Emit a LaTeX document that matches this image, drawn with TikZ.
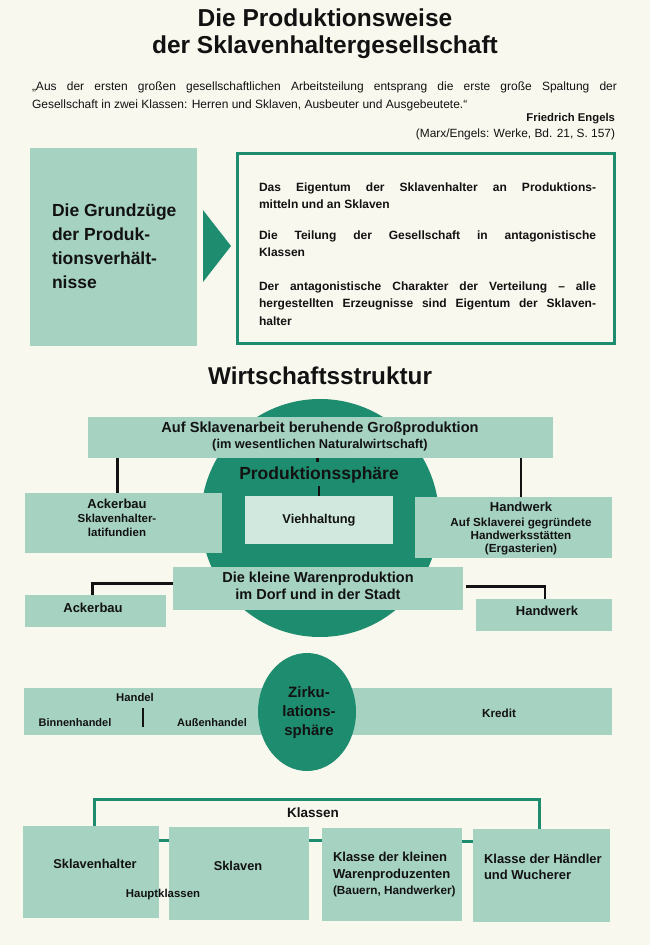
\documentclass[tikz,border=0pt]{standalone}
\usepackage{fontspec}
\setmainfont{Liberation Sans}
\usetikzlibrary{shapes.geometric,fit,calc}
\definecolor{paper}{RGB}{249,248,238}
\definecolor{lgreen}{RGB}{166,210,194}
\definecolor{vlgreen}{RGB}{208,232,221}
\definecolor{dgreen}{RGB}{30,140,110}
\definecolor{ink}{RGB}{18,18,18}
\newcommand\myfs[2]{\fontsize{#1}{#2}\selectfont}
\begin{document}
\begin{tikzpicture}[x=1pt,y=-1pt,
  every node/.style={inner sep=0pt, outer sep=0pt, text=ink},
  box/.style={fill=lgreen, draw=none},
  vbox/.style={fill=vlgreen, draw=none},
  lb/.style={anchor=base, font=\bfseries\myfs{#1}{#1}},
  lbw/.style={anchor=base west, font=\bfseries\myfs{#1}{#1}},
  conn/.style={draw=ink, line width=2.2pt},
  gconn/.style={draw=dgreen, line width=3pt},
]
% paper
\fill[paper] (0,0) rectangle (650,945);

% ---------- title ----------
\node[lb=24.5] (t1) at (325,26) {Die Produktionsweise};
\node[lb=24.5] (t2) at (325,53) {der Sklavenhaltergesellschaft};

% ---------- quote ----------
\node[anchor=base west, font=\myfs{12}{14}] (q1) at (32,90)
  {\makebox[585pt][s]{„Aus der ersten großen gesellschaftlichen Arbeitsteilung entsprang die erste große Spaltung der}};
\node[anchor=base west, font=\myfs{12}{14}] (q2) at (32,108)
  {Gesellschaft in zwei Klassen: Herren und Sklaven, Ausbeuter und Ausgebeutete.“};
\node[anchor=base east, font=\bfseries\myfs{11.3}{13}] (q3) at (615,121) {Friedrich Engels};
\node[anchor=base east, font=\myfs{11.9}{13}] (q4) at (615,137) {(Marx/Engels: Werke, Bd. 21, S. 157)};

% ---------- Grundzuege ----------
\node[box, fit={(30,148) (197,346)}] (gz) {};
\node[draw=dgreen, line width=3pt, fill=paper, fit={(237,153) (614,343)}] (eig) {};
\fill[dgreen] (203,210) -- (231,246) -- (203,282) -- cycle;
\node[lbw=17.5] (g1) at (52,216) {Die Grundzüge};
\node[lbw=17.5] (g2) at (52,240) {der Produk-};
\node[lbw=17.5] (g3) at (52,264) {tionsverhält-};
\node[lbw=17.5] (g4) at (52,288) {nisse};

\node[lbw=12] (e1) at (259,191) {\makebox[337pt][s]{Das Eigentum der Sklavenhalter an Produktions-}};
\node[lbw=12] (e2) at (259,208.5) {mitteln und an Sklaven};
\node[lbw=12] (e3) at (259,239) {\makebox[337pt][s]{Die Teilung der Gesellschaft in antagonistische}};
\node[lbw=12] (e4) at (259,256.5) {Klassen};
\node[lbw=12] (e5) at (259,290) {\makebox[337pt][s]{Der antagonistische Charakter der Verteilung – alle}};
\node[lbw=12] (e6) at (259,307.5) {\makebox[337pt][s]{hergestellten Erzeugnisse sind Eigentum der Sklaven-}};
\node[lbw=12] (e7) at (259,325) {halter};

% ---------- Wirtschaftsstruktur ----------
\node[lb=24.3] (ws) at (320,384) {Wirtschaftsstruktur};

\node[circle, fill=dgreen, minimum size=238pt] (pcirc) at (320,518) {};

\node[box, fit={(88,417) (553,458)}] (gp) {};
\node[lb=14.6] (gp1) at (320,432) {Auf Sklavenarbeit beruhende Großproduktion};
\node[lb=12.8] (gp2) at (320,448.5) {(im wesentlichen Naturalwirtschaft)};

\node[lb=17.5] (ps) at (319,479) {Produktionssphäre};

\node[box, fit={(25,493) (222,553)}] (acker) {};
\node[lb=13] (a1) at (117,508) {Ackerbau};
\node[lb=11.5] (a2) at (117,522) {Sklavenhalter-};
\node[lb=11.5] (a3) at (117,536.5) {latifundien};

\node[vbox, fit={(245,496) (393,544)}] (vieh) {};
\node[lb=12.8] (v1) at (319,523.5) {Viehhaltung};

\node[box, fit={(415,497) (612,558)}] (hw) {};
\node[lb=13] (h1) at (521,511) {Handwerk};
\node[lb=11.7] (h2) at (521,526) {Auf Sklaverei gegründete};
\node[lb=11.7] (h3) at (521,539.5) {Handwerksstätten};
\node[lb=11.7] (h4) at (521,552.5) {(Ergasterien)};

\node[box, fit={(173,567) (463,610)}] (waren) {};
\node[lb=14.5] (w1) at (318,582) {Die kleine Warenproduktion};
\node[lb=14.5] (w2) at (318,599) {im Dorf und in der Stadt};

\node[box, fit={(25,595) (166,627)}] (acker2) {};
\node[lb=13] (a4) at (93,612) {Ackerbau};
\node[box, fit={(476,599) (612,631)}] (hw2) {};
\node[lb=13] (h5) at (547,615) {Handwerk};

% connectors
\draw[conn] ([xshift=-6pt]acker.north) -- ([xshift=-6pt]acker.north |- gp.south);
\draw[conn] ([xshift=7.5pt]hw.north) -- ([xshift=7.5pt]hw.north |- gp.south);
\draw[conn] ([xshift=-3pt]gp.south) -- ([xshift=-3pt,yshift=4pt]gp.south |- ps.north);
\draw[conn] ([yshift=-3pt]ps.south) -- (ps.south |- vieh.north);
\draw[conn] ([yshift=5pt]waren.west) -| ([xshift=-3pt]acker2.north);
\draw[conn] ([xshift=3pt,yshift=2pt]waren.east) -| ([xshift=1pt]hw2.north);

% ---------- Zirkulation ----------
\node[box, fit={(24,688) (612,735)}] (band) {};
\node[ellipse, fill=dgreen, minimum width=98pt, minimum height=118pt] (zcirc) at (307,712) {};
\node[lb=15] (z1) at (309,697.5) {Zirku-};
\node[lb=15] (z2) at (309,716) {lations-};
\node[lb=15] (z3) at (309,735.5) {sphäre};

\node[lb=11.3] (hd) at (135,701) {Handel};
\node[lb=11] (bh) at (75,726) {Binnenhandel};
\node[lb=11] (ah) at (212,726) {Außenhandel};
\draw[conn] (143,708) -- (143,727);
\node[lb=11.7] (kr) at (499,717) {Kredit};

% ---------- Klassen ----------
\node[box, fit={(23,826) (159,918)}] (k1) {};
\node[box, fit={(169,827) (309,920)}] (k2) {};
\node[box, fit={(322,828) (462,921)}] (k3) {};
\node[box, fit={(473,829) (610,922)}] (k4) {};
\coordinate (ktop) at (316,799);
\draw[gconn] ([xshift=3pt]k1.north) |- (ktop) -| ([xshift=-2.5pt]k4.north);
\node[lb=13.5] (kl) at (313,817) {Klassen};
\draw[gconn] ([yshift=32pt]k1.east) -- ([yshift=32pt]k1.east -| k2.west);
\draw[gconn] ([yshift=33pt]k2.east) -- ([yshift=33pt]k2.east -| k3.west);
\draw[gconn] ([yshift=33pt]k3.east) -- ([yshift=33pt]k3.east -| k4.west);

\node[lb=12.8] (c1) at (95,868) {Sklavenhalter};
\node[lb=12.8] (c2) at (238,870) {Sklaven};
\node[lb=11.4] (c3) at (163,897.5) {Hauptklassen};
\node[lbw=13] (c4) at (333,861) {Klasse der kleinen};
\node[lbw=13] (c5) at (333,878) {Warenproduzenten};
\node[lbw=11.8] (c6) at (333,894.5) {(Bauern, Handwerker)};
\node[lbw=13] (c7) at (484,863) {Klasse der Händler};
\node[lbw=13] (c8) at (484,879.5) {und Wucherer};
\end{tikzpicture}
\end{document}
